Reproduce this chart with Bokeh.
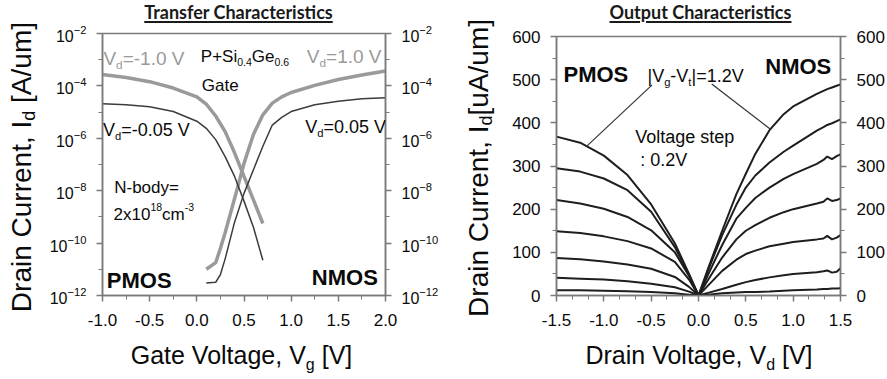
from bokeh.plotting import figure
from bokeh.models import (LogAxis, LinearAxis, FixedTicker, Label, Range1d,
                          PrintfTickFormatter, Div)
from bokeh.layouts import row, column
from bokeh.embed import file_html
from bokeh.resources import INLINE

# ---------------- Transfer characteristics (A/um) ----------------
vg_pmos = [-1.0, -0.75, -0.5, -0.25, 0.0, 0.1, 0.2, 0.3, 0.4, 0.5, 0.6, 0.7]
id_pmos_vd_m1p0 = [2.7e-4, 2.1e-4, 1.45e-4, 8.3e-5, 3.8e-5, 2.0e-5, 7.1e-6, 1.8e-6,
                   2.8e-7, 3.5e-8, 4.5e-9, 5.6e-10]
id_pmos_vd_m0p05 = [2.1e-5, 1.9e-5, 1.6e-5, 1.05e-5, 4.5e-6, 2.4e-6, 8.9e-7, 2.0e-7,
                    3.5e-8, 4.0e-9, 4.0e-10, 2.2e-11]
vg_nmos = [0.1, 0.2, 0.25, 0.3, 0.4, 0.5, 0.6, 0.7, 0.8, 0.9, 1.0, 1.25, 1.5, 1.75, 2.0]
id_nmos_vd_1p0 = [1.0e-11, 1.8e-11, 6.3e-11, 2.5e-10, 5.0e-9, 1.1e-7, 1.4e-6, 7.9e-6,
                  2.2e-5, 3.8e-5, 5.6e-5, 1.05e-4, 1.75e-4, 2.6e-4, 3.7e-4]
id_nmos_vd_0p05 = [3.0e-12, 3.2e-12, 6.3e-12, 2.5e-11, 6.3e-10, 7.9e-9, 6.3e-8, 5.0e-7,
                   3.2e-6, 6.3e-6, 1.05e-5, 1.9e-5, 2.6e-5, 3.2e-5, 3.5e-5]

x1_ticks = [-1.0, -0.5, 0.0, 0.5, 1.0, 1.5, 2.0]
y1_ticks = [1e-12, 1e-10, 1e-8, 1e-6, 1e-4, 1e-2]
y1_minor = [1e-11, 1e-9, 1e-7, 1e-5, 1e-3]

# ---------------- Output characteristics (uA/um) ----------------
vd_pmos = [-1.5, -1.25, -1.0, -0.75, -0.5, -0.25, -0.1, 0.0]
pmos_curves = [
    [12, 12, 11, 10, 8, 5, 2, 0],
    [41, 39, 37, 33, 27, 19, 9, 0],
    [87, 84, 79, 72, 62, 43, 20, 0],
    [149, 145, 137, 126, 109, 78, 37, 0],
    [221, 213, 201, 182, 151, 100, 45, 0],
    [295, 287, 271, 244, 194, 112, 48, 0],
    [368, 354, 324, 279, 211, 121, 50, 0],
]
vd_nmos = [0.0, 0.1, 0.25, 0.4, 0.5, 0.6, 0.75, 0.9, 1.0, 1.25, 1.32, 1.36, 1.41, 1.46, 1.5]
nmos_curves = [
    [0, 2, 5, 7, 8, 8, 9, 11, 12, 14, 15, 15, 16, 16, 17],
    [0, 6, 15, 25, 31, 36, 42, 47, 50, 54, 56, 58, 53, 55, 63],
    [0, 23, 57, 83, 96, 104, 114, 120, 124, 130, 132, 138, 130, 134, 140],
    [0, 36, 88, 130, 150, 163, 180, 193, 200, 213, 217, 225, 219, 221, 225],
    [0, 48, 117, 178, 203, 226, 250, 270, 281, 305, 314, 322, 316, 323, 327],
    [0, 58, 140, 210, 250, 278, 308, 333, 347, 382, 390, 395, 399, 404, 408],
    [0, 62, 150, 235, 282, 328, 383, 420, 438, 467, 474, 478, 482, 486, 489],
]
leader_pmos_x = [-0.49, -1.18]
leader_pmos_y = [488, 346]
leader_nmos_x = [0.14, 0.76]
leader_nmos_y = [490, 385]

x2_ticks = [-1.5, -1.0, -0.5, 0.0, 0.5, 1.0, 1.5]
y2_ticks = [0, 100, 200, 300, 400, 500, 600]

# ---------------- helpers ----------------
FONT = "Liberation Sans"
ARIAL = {}
for ch, w in zip(" !\"#$%&'()*+,-./:;<=>?", [278, 278, 355, 556, 556, 889, 667, 191, 333, 333, 389, 584,
                                             278, 333, 278, 278, 278, 278, 584, 584, 584, 556]):
    ARIAL[ch] = w
for ch in "0123456789":
    ARIAL[ch] = 556
for ch, w in zip("ABCDEFGHIJKLMNOPQRSTUVWXYZ", [667, 667, 722, 722, 667, 611, 778, 722, 278, 500, 667, 556, 833,
                                                  722, 778, 667, 778, 722, 667, 611, 722, 667, 944, 667, 667, 611]):
    ARIAL[ch] = w
for ch, w in zip("abcdefghijklmnopqrstuvwxyz", [556, 556, 500, 556, 556, 278, 556, 556, 222, 222, 500, 222, 833,
                                                  556, 556, 556, 556, 333, 500, 278, 556, 500, 722, 500, 500, 500]):
    ARIAL[ch] = w
ARIAL.update({"[": 278, "]": 278, "|": 260, "^": 469, "_": 556})


def tw(s, size):
    return sum(ARIAL.get(c, 556) for c in s) * size / 1000.0


def rich(p, x, y, parts, size, color="#0a0a0a", bold=False):
    adv = 0.0
    for txt, kind in parts:
        s = size * (0.62 if kind != "n" else 1.0)
        shift = {"n": 0.0, "sub": -0.33 * size, "sup": 0.42 * size}[kind]
        p.add_layout(Label(x=x, y=y, text=txt, x_offset=adv, y_offset=shift,
                           text_font=FONT, text_font_size=f"{s:.1f}px",
                           text_font_style="bold" if bold else "normal",
                           text_color=color, text_align="left", text_baseline="alphabetic"))
        adv += tw(txt, s)


def style_axis(ax, standoff=10, size="17px"):
    ax.major_label_text_font = FONT
    ax.major_label_text_font_size = size
    ax.major_label_text_color = "#0a0a0a"
    ax.axis_line_color = "#7a7a7a"
    ax.axis_line_width = 1.5
    ax.major_tick_line_color = "#7a7a7a"
    ax.major_tick_line_width = 1.5
    ax.minor_tick_line_color = "#7a7a7a"
    ax.major_tick_out = 6
    ax.major_tick_in = 0
    ax.minor_tick_out = 4
    ax.minor_tick_in = 0
    ax.major_label_standoff = standoff


def title_div(text, width, pl, pr):
    html = (f'<div style="width:{width}px;height:24px;box-sizing:border-box;padding-left:{pl}px;'
            f'padding-right:{pr}px;text-align:center;font-family:Lato,\'Open Sans\',sans-serif;'
            f'font-weight:bold;font-size:18px;line-height:24px;color:#1a1a1a;white-space:nowrap;">'
            f'<span style="text-decoration:underline;text-underline-offset:2px;'
            f'text-decoration-thickness:1.5px;">{text}</span></div>')
    return Div(text=html, width=width, height=24, margin=0)


def ylabel_div(main, sub, tail, width, height, pl, pb):
    html = (f'<div style="width:{width}px;height:{height}px;box-sizing:border-box;display:flex;'
            f'align-items:center;justify-content:flex-start;padding-left:{pl}px;padding-bottom:{pb}px;">'
            f'<div style="writing-mode:vertical-rl;transform:rotate(180deg);font-family:\'{FONT}\';'
            f'font-size:28px;line-height:30px;white-space:nowrap;color:#0a0a0a;">'
            f'{main}<sub style="font-size:18px;line-height:0;">{sub}</sub>{tail}</div></div>')
    return Div(text=html, width=width, height=height, margin=0)


def xlabel_div(main, sub, tail, width, height, pl, pr):
    html = (f'<div style="width:{width}px;height:{height}px;box-sizing:border-box;padding-left:{pl}px;'
            f'padding-right:{pr}px;padding-top:5px;text-align:center;font-family:\'{FONT}\';'
            f'font-size:25px;line-height:30px;white-space:nowrap;color:#0a0a0a;">'
            f'{main}<sub style="font-size:16px;line-height:0;">{sub}</sub>{tail}</div>')
    return Div(text=html, width=width, height=height, margin=0)


# ---------------- Left: transfer ----------------
p1 = figure(frame_width=283, frame_height=262, y_axis_type="log",
            x_range=Range1d(x1_ticks[0], x1_ticks[-1]), y_range=Range1d(y1_ticks[0], y1_ticks[-1]),
            output_backend="svg", toolbar_location=None,
            min_border_left=53, min_border_right=58, min_border_top=9, min_border_bottom=40)
p1.xgrid.visible = False
p1.ygrid.visible = False
p1.outline_line_color = "#7a7a7a"
p1.outline_line_width = 1.5
x1_minor = [(a + b) / 2 for a, b in zip(x1_ticks[:-1], x1_ticks[1:])]
p1.xaxis.ticker = FixedTicker(ticks=x1_ticks, minor_ticks=x1_minor)
p1.xaxis.formatter = PrintfTickFormatter(format="%.1f")
p1.yaxis.ticker = FixedTicker(ticks=y1_ticks, minor_ticks=y1_minor)
p1.add_layout(LogAxis(ticker=FixedTicker(ticks=y1_ticks, minor_ticks=y1_minor)), "right")
for ax in p1.xaxis:
    style_axis(ax, 12, "17px")
for ax in p1.yaxis:
    style_axis(ax, 10, "16px")

GRAY = "#9a9a9a"
DARK = "#3c3c3c"
p1.line(vg_pmos, id_pmos_vd_m1p0, line_color=GRAY, line_width=3.5)
p1.line(vg_nmos, id_nmos_vd_1p0, line_color=GRAY, line_width=3.5)
p1.line(vg_pmos, id_pmos_vd_m0p05, line_color=DARK, line_width=1.5)
p1.line(vg_nmos, id_nmos_vd_0p05, line_color=DARK, line_width=1.5)

rich(p1, -0.99, 1.1e-3, [("V", "n"), ("d", "sub"), ("=-1.0 V", "n")], 19, color=GRAY)
rich(p1, 1.166, 1.3e-3, [("V", "n"), ("d", "sub"), ("=1.0 V", "n")], 19, color=GRAY)
rich(p1, 0.042, 1.3e-3, [("P+Si", "n"), ("0.4", "sub"), ("Ge", "n"), ("0.6", "sub")], 17)
rich(p1, 0.053, 1.0e-4, [("Gate", "n")], 17)
rich(p1, -0.995, 2.0e-6, [("V", "n"), ("d", "sub"), ("=-0.05 V", "n")], 18)
rich(p1, 1.149, 2.65e-6, [("V", "n"), ("d", "sub"), ("=0.05 V", "n")], 18)
rich(p1, -0.876, 1.36e-8, [("N-body=", "n")], 17)
rich(p1, -0.883, 1.24e-9, [("2x10", "n"), ("18", "sup"), ("cm", "n"), ("-3", "sup")], 17)
rich(p1, -0.954, 3.7e-12, [("PMOS", "n")], 22, bold=True)
rich(p1, 1.219, 5.0e-12, [("NMOS", "n")], 22, bold=True)

# ---------------- Right: output ----------------
p2 = figure(frame_width=284, frame_height=259,
            x_range=Range1d(x2_ticks[0], x2_ticks[-1]), y_range=Range1d(y2_ticks[0], y2_ticks[-1]),
            output_backend="svg", toolbar_location=None,
            min_border_left=61, min_border_right=50, min_border_top=12, min_border_bottom=40)
p2.xgrid.visible = False
p2.ygrid.visible = False
p2.outline_line_color = "#7a7a7a"
p2.outline_line_width = 1.5
x2_minor = [a + (b - a) * k / 3 for a, b in zip(x2_ticks[:-1], x2_ticks[1:]) for k in (1, 2)]
y2_minor = [(a + b) / 2 for a, b in zip(y2_ticks[:-1], y2_ticks[1:])]
p2.xaxis.ticker = FixedTicker(ticks=x2_ticks, minor_ticks=x2_minor)
p2.xaxis.formatter = PrintfTickFormatter(format="%.1f")
p2.yaxis.ticker = FixedTicker(ticks=y2_ticks, minor_ticks=y2_minor)
p2.add_layout(LinearAxis(ticker=FixedTicker(ticks=y2_ticks, minor_ticks=y2_minor)), "right")
for ax in p2.xaxis:
    style_axis(ax, 12, "17px")
for ax in p2.yaxis:
    style_axis(ax, 10, "17px")

BLACK = "#1e1e1e"
for ys in pmos_curves:
    p2.line(vd_pmos, ys, line_color=BLACK, line_width=2)
for ys in nmos_curves:
    p2.line(vd_nmos, ys, line_color=BLACK, line_width=2)
p2.line(leader_pmos_x, leader_pmos_y, line_color="#333333", line_width=1.2)
p2.line(leader_nmos_x, leader_nmos_y, line_color="#333333", line_width=1.2)

rich(p2, -1.426, 512, [("PMOS", "n")], 22, bold=True)
rich(p2, 0.705, 531, [("NMOS", "n")], 22, bold=True)
rich(p2, -0.539, 508, [("|V", "n"), ("g", "sub"), ("-V", "n"), ("t", "sub"), ("|=1.2V", "n")], 18)
rich(p2, -0.669, 368, [("Voltage step", "n")], 18)
rich(p2, -0.616, 314, [(": 0.2V", "n")], 18)

# ---------------- titles and axis labels ----------------
t1 = title_div("Transfer Characteristics", 394, 0, 9)
t2 = title_div("Output Characteristics", 395, 16, 0)
xl1 = xlabel_div("Gate Voltage, V", "g", " [V]", 394, 44, 0, 3)
xl2 = xlabel_div("Drain Voltage, V", "d", " [V]", 395, 44, 13, 0)
yl1 = ylabel_div("Drain Current, I", "d", " [A/um]", 46, 379, 7, 44)
yl2 = ylabel_div("Drain Current, I", "d", "[uA/um]", 52, 379, 21, 44)

layout = row(yl1, column(t1, p1, xl1, spacing=0), yl2, column(t2, p2, xl2, spacing=0), spacing=0)
open("out.html", "w").write(file_html(layout, INLINE))
